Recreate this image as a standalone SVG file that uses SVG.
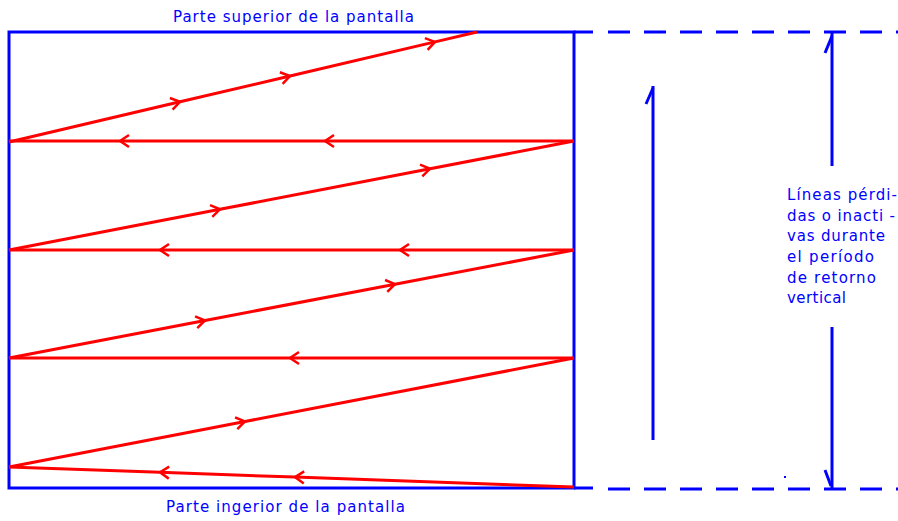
<svg xmlns="http://www.w3.org/2000/svg" width="898" height="521" viewBox="0 0 898 521">
<style>
.blue{stroke:#0000ff;stroke-width:3;fill:none}
.dash{stroke:#0000ff;stroke-width:3;fill:none;stroke-dasharray:22 14}
.red{stroke:#ff0000;stroke-width:3;fill:none;marker-mid:url(#ah)}
.lbl{font-family:"DejaVu Sans",Verdana,sans-serif;font-size:15px;fill:#0000ff}
</style>
<defs>
<marker id="ah" markerUnits="userSpaceOnUse" markerWidth="20" markerHeight="20" refX="0" refY="0" viewBox="-10 -10 20 20" orient="auto" overflow="visible">
<path d="M-9,-6 L0,0 L-9,6" stroke="#ff0000" stroke-width="2.5" fill="none"/>
</marker>
</defs>
<rect width="898" height="521" fill="#ffffff"/>
<g id="screen">
<rect x="9" y="32" width="565" height="456" class="blue"/>
<line x1="574" y1="32" x2="593" y2="32" class="blue"/>
<line x1="574" y1="488" x2="593" y2="488" class="blue"/>
<line x1="608" y1="32" x2="898" y2="32" class="dash"/>
<line x1="608" y1="489" x2="898" y2="489" class="dash"/>
</g>
<g id="scan-lines">
<polyline class="red" points="9,142 180,101.8 290,76 435,41.9 477,32"/>
<polyline class="red" points="574,141 325,141 120,141 9,141"/>
<polyline class="red" points="9,250 220,209.3 430,168.8 574,141"/>
<polyline class="red" points="574,250 400,250 160,250 9,250"/>
<polyline class="red" points="9,358 205,320.5 395,284.2 574,250"/>
<polyline class="red" points="574,358 290,358 9,358"/>
<polyline class="red" points="9,467 245,421.5 574,358"/>
<polyline class="red" points="574,487 295,477.1 160,472.3 9,467"/>
</g>
<g id="retrace-arrow">
<line x1="653" y1="440" x2="653" y2="86" class="blue"/>
<line x1="653" y1="88" x2="646" y2="104" class="blue"/>
</g>
<g id="dimension">
<line x1="832" y1="32" x2="832" y2="166" class="blue"/>
<line x1="832" y1="36" x2="825" y2="53" class="blue"/>
<line x1="832" y1="327" x2="832" y2="489" class="blue"/>
<line x1="831" y1="486" x2="825" y2="470" class="blue"/>
<rect x="784" y="476" width="2" height="2" fill="#0000ff"/>
</g>
<g id="labels">
<text class="lbl" x="173" y="22" textLength="241" lengthAdjust="spacing">Parte superior de la pantalla</text>
<text class="lbl" x="166" y="512" textLength="239" lengthAdjust="spacing">Parte ingerior de la pantalla</text>
<text class="lbl" x="787" y="200" textLength="110" lengthAdjust="spacing">Líneas pérdi-</text>
<text class="lbl" x="787" y="221" textLength="108" lengthAdjust="spacing">das o inacti -</text>
<text class="lbl" x="787" y="241" textLength="98" lengthAdjust="spacing">vas durante</text>
<text class="lbl" x="787" y="262" textLength="87" lengthAdjust="spacing">el período</text>
<text class="lbl" x="787" y="283" textLength="89" lengthAdjust="spacing">de retorno</text>
<text class="lbl" x="787" y="303" textLength="59" lengthAdjust="spacing">vertical</text>
</g>
</svg>
